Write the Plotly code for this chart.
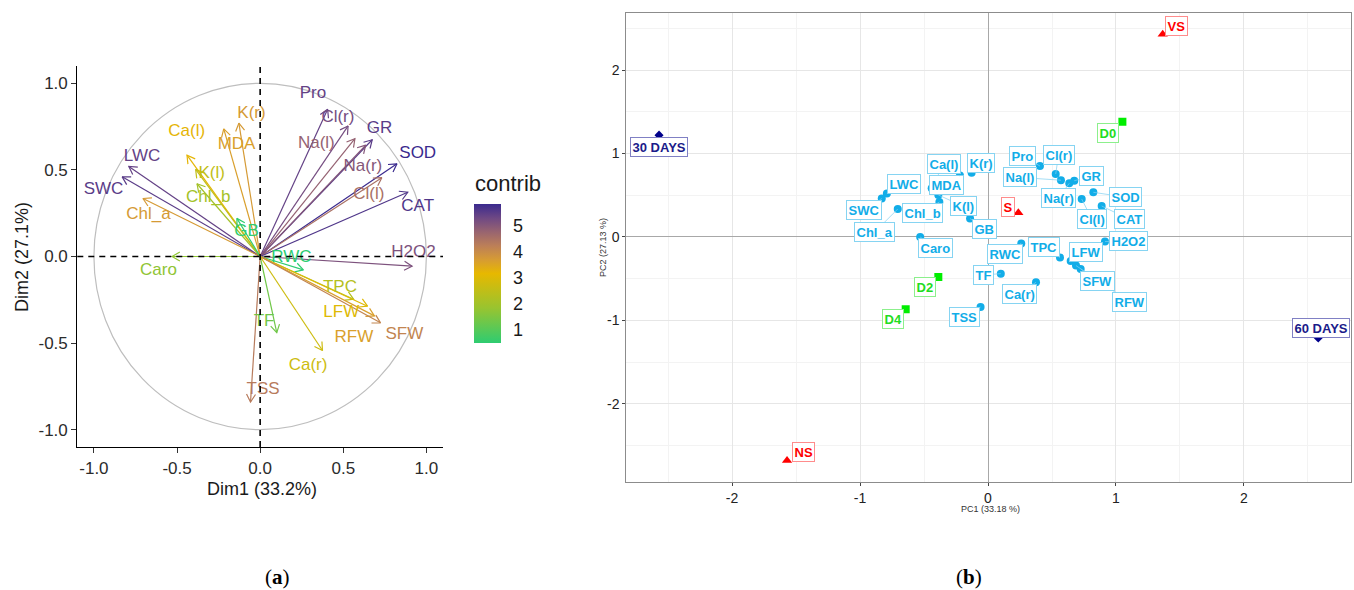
import math
import plotly.graph_objects as go

W, H = 1354, 590

# ---------------- data ----------------
variables = ["Pro", "Cl(r)", "Na(l)", "GR", "Na(r)", "SOD", "Cl(l)", "CAT", "H2O2",
             "LWC", "SWC", "Chl_a", "Ca(l)", "K(l)", "Chl_b", "MDA", "K(r)", "GB",
             "Caro", "RWC", "TPC", "LFW", "RFW", "SFW", "TF", "Ca(r)", "TSS"]
dim1 = [0.406, 0.529, 0.570, 0.674, 0.635, 0.823, 0.732, 0.888, 0.914,
        -0.790, -0.830, -0.705, -0.440, -0.388, -0.380, -0.219, -0.128, -0.140,
        -0.530, 0.260, 0.5625, 0.646, 0.6875, 0.724, 0.100, 0.375, -0.058]
dim2 = [0.850, 0.754, 0.680, 0.674, 0.643, 0.535, 0.455, 0.371, -0.056,
        0.520, 0.460, 0.335, 0.585, 0.503, 0.420, 0.737, 0.770, 0.220,
        0.000, -0.077, -0.247, -0.287, -0.343, -0.383, -0.440, -0.543, -0.840]
contrib = [5.4, 5.2, 4.8, 5.5, 5.0, 5.83, 4.5, 5.6, 5.1,
           5.4, 5.5, 3.7, 3.2, 2.5, 2.0, 3.6, 3.7, 0.5,
           1.7, 0.46, 2.3, 3.0, 3.6, 4.1, 1.3, 2.7, 4.3]

groups = ["30 DAYS", "60 DAYS", "VS", "S", "NS", "D0", "D2", "D4"]
group_kind = ["days", "days", "salt", "salt", "salt", "dose", "dose", "dose"]
pc1 = [-2.57, 2.58, 1.365, 0.237, -1.57, 1.05, -0.388, -0.643]
pc2 = [1.22, -1.21, 2.43, 0.29, -2.68, 1.38, -0.48, -0.866]

a_ticks = [-1.0, -0.5, 0.0, 0.5, 1.0]
a_tick_labels = ["-1.0", "-0.5", "0.0", "0.5", "1.0"]
cbar_ticks = [1, 2, 3, 4, 5]
b_ticks = [-2, -1, 0, 1, 2]
b_tick_labels = ["-2", "-1", "0", "1", "2"]

# ---------------- label placement (positions, not data) ----------------
lab_a = {
    "Pro": (0.318, 0.94), "Cl(r)": (0.468, 0.80), "Na(l)": (0.338, 0.651), "GR": (0.718, 0.738),
    "Na(r)": (0.618, 0.517), "SOD": (0.948, 0.594), "Cl(l)": (0.654, 0.357), "CAT": (0.948, 0.289),
    "H2O2": (0.922, 0.02), "LWC": (-0.711, 0.575), "SWC": (-0.942, 0.386), "Chl_a": (-0.672, 0.241),
    "Ca(l)": (-0.442, 0.723), "K(l)": (-0.292, 0.478), "Chl_b": (-0.312, 0.341), "MDA": (-0.142, 0.646),
    "K(r)": (-0.052, 0.823), "GB": (-0.082, 0.145), "Caro": (-0.612, -0.085), "RWC": (0.188, -0.01),
    "TPC": (0.480, -0.183), "LFW": (0.488, -0.327), "RFW": (0.564, -0.472), "SFW": (0.868, -0.450),
    "TF": (0.024, -0.376), "Ca(r)": (0.288, -0.63), "TSS": (0.018, -0.771),
}
lab_b = {
    "Ca(l)": (-0.345, 0.880), "K(r)": (-0.056, 0.892), "LWC": (-0.659, 0.635), "MDA": (-0.323, 0.617),
    "SWC": (-0.969, 0.329), "Chl_b": (-0.512, 0.284), "K(l)": (-0.191, 0.365), "Chl_a": (-0.883, 0.062),
    "GB": (-0.026, 0.096), "Caro": (-0.408, -0.138), "RWC": (0.129, -0.210), "TF": (-0.034, -0.455),
    "TSS": (-0.182, -0.964), "Pro": (0.267, 0.972), "Cl(r)": (0.551, 0.982), "Na(l)": (0.25, 0.713),
    "GR": (0.810, 0.728), "Na(r)": (0.552, 0.467), "SOD": (1.073, 0.477), "Cl(l)": (0.8125, 0.210),
    "CAT": (1.105, 0.210), "H2O2": (1.099, -0.046), "TPC": (0.441, -0.122), "LFW": (0.768, -0.180),
    "SFW": (0.859, -0.529), "RFW": (1.109, -0.781), "Ca(r)": (0.246, -0.689),
}
lab_g = {
    "30 DAYS": (-2.57, 1.081), "60 DAYS": (2.598, -1.087), "VS": (1.469, 2.527), "NS": (-1.445, -2.575),
    "S": (0.156, 0.353), "D0": (0.9375, 1.251), "D2": (-0.496, -0.599), "D4": (-0.746, -0.982),
}

# ---------------- geometry ----------------
A_L, A_R, A_T, A_B = 77.3, 443.0, 66.0, 447.0
A_XR, A_YR = [-1.1, 1.1], [-1.1, 1.1]
B_L, B_R, B_T, B_B = 626.4, 1351.0, 13.3, 482.3
B_XR, B_YR = [-2.825, 2.836], [-2.94, 2.68]

FONT = "Liberation Sans, Arial, sans-serif"

# green -> gold -> indigo gradient (extra stops mimic perceptual interpolation)
cs_rgb = [(0.0, (46, 204, 113)), (0.25, (152, 196, 48)), (0.5, (231, 184, 0)),
          (0.6, (214, 155, 52)), (0.7, (188, 127, 88)), (0.8, (152, 100, 112)),
          (0.9, (110, 72, 132)), (1.0, (58, 42, 142))]
cscale = [[t, "rgb(%d,%d,%d)" % c] for t, c in cs_rgb]
cmin, cmax = min(contrib), max(contrib)


def colour(v):
    t = (v - cmin) / (cmax - cmin)
    for (t0, c0), (t1, c1) in zip(cs_rgb[:-1], cs_rgb[1:]):
        if t <= t1:
            f = (t - t0) / (t1 - t0)
            return "rgb(%d,%d,%d)" % tuple(round(a + (b - a) * f) for a, b in zip(c0, c1))
    return "rgb(%d,%d,%d)" % cs_rgb[-1][1]


fig = go.Figure()

# ---------------- panel (a): variable arrows ----------------
kx = (A_R - A_L) / (A_XR[1] - A_XR[0])
ky = (A_B - A_T) / (A_YR[1] - A_YR[0])
barb, phi = 9.0, math.radians(30)
for name, x, y, c in zip(variables, dim1, dim2, contrib):
    ang = math.atan2(y * ky, x * kx)
    b1 = (x - barb * math.cos(ang - phi) / kx, y - barb * math.sin(ang - phi) / ky)
    b2 = (x - barb * math.cos(ang + phi) / kx, y - barb * math.sin(ang + phi) / ky)
    fig.add_trace(go.Scatter(
        x=[0, x, None, b1[0], x, b2[0]], y=[0, y, None, b1[1], y, b2[1]],
        mode="lines", line=dict(color=colour(c), width=1.2),
        xaxis="x", yaxis="y", showlegend=False, hoverinfo="skip"))

fig.add_trace(go.Scatter(
    x=[lab_a[v][0] for v in variables], y=[lab_a[v][1] for v in variables],
    mode="text", text=variables,
    textfont=dict(family=FONT, size=17, color=[colour(c) for c in contrib]),
    xaxis="x", yaxis="y", showlegend=False, hoverinfo="skip"))

# colour bar carrier (invisible markers)
fig.add_trace(go.Scatter(
    x=dim1, y=dim2, mode="markers", xaxis="x", yaxis="y", showlegend=False, hoverinfo="skip",
    marker=dict(size=4, opacity=0, color=contrib, colorscale=cscale, cmin=cmin, cmax=cmax, showscale=True,
                colorbar=dict(x=474 / W, xanchor="left", y=1 - 274 / H, yanchor="middle",
                              len=139, lenmode="pixels", thickness=27, thicknessmode="pixels",
                              outlinewidth=0, tickvals=cbar_ticks, ticks="outside", ticklen=9,
                              tickcolor="rgba(255,255,255,0)", xpad=0, ypad=0,
                              tickfont=dict(family=FONT, size=18, color="#1a1a1a")))))

# ---------------- panel (b): biplot ----------------
var_col = "#12ADE8"
fig.add_trace(go.Scatter(x=dim1, y=dim2, mode="markers", xaxis="x2", yaxis="y2",
                         marker=dict(color=var_col, size=8), showlegend=False, hoverinfo="skip"))

gstyle = {
    "days": dict(symbol="diamond", size=7, color="#00008B", text="#1B1B8A", border="#8080C4"),
    "salt": dict(symbol="triangle-up", size=9, color="#FF0000", text="#FF0000", border="#FF8C8C"),
    "dose": dict(symbol="square", size=8, color="#00EE00", text="#22DD22", border="#8CF08C"),
}
for kind in ["days", "salt", "dose"]:
    idx = [i for i, k in enumerate(group_kind) if k == kind]
    st = gstyle[kind]
    fig.add_trace(go.Scatter(x=[pc1[i] for i in idx], y=[pc2[i] for i in idx], mode="markers",
                             xaxis="x2", yaxis="y2", showlegend=False, hoverinfo="skip",
                             marker=dict(symbol=st["symbol"], size=st["size"], color=st["color"])))

annotations = []
for name, x, y in zip(variables, dim1, dim2):
    lx, ly = lab_b[name]
    annotations.append(dict(
        x=x, y=y, ax=lx, ay=ly, xref="x2", yref="y2", axref="x2", ayref="y2",
        text="<b>%s</b>" % name, showarrow=True, arrowhead=0, arrowwidth=0.7,
        arrowcolor="#7FD0F0", standoff=0, startstandoff=0,
        font=dict(family=FONT, size=13, color=var_col),
        bgcolor="white", bordercolor="#86D4F2", borderwidth=1, borderpad=1.5))
for name, kind in zip(groups, group_kind):
    lx, ly = lab_g[name]
    st = gstyle[kind]
    annotations.append(dict(
        x=lx, y=ly, xref="x2", yref="y2", text="<b>%s</b>" % name, showarrow=False,
        xanchor="center", yanchor="middle",
        font=dict(family=FONT, size=13, color=st["text"]),
        bgcolor="white", bordercolor=st["border"], borderwidth=1, borderpad=1.5))


# axis titles and captions (paper pixels)
def px(x, y):
    return dict(x=x / W, y=1 - y / H, xref="paper", yref="paper", showarrow=False,
                xanchor="center", yanchor="middle")


annotations += [
    dict(**px(262, 489), text="Dim1 (33.2%)", font=dict(family=FONT, size=18, color="#1a1a1a")),
    dict(**px(22, 257), text="Dim2 (27.1%)", textangle=-90, font=dict(family=FONT, size=18, color="#1a1a1a")),
    dict(**px(508, 184), text="contrib", font=dict(family=FONT, size=22, color="#1a1a1a")),
    dict(**px(990, 509), text="PC1 (33.18 %)", font=dict(family=FONT, size=9, color="#333333")),
    dict(**px(603, 248), text="PC2 (27.13 %)", textangle=-90, font=dict(family=FONT, size=9, color="#333333")),
    dict(**px(277, 577), text="(<b>a</b>)", font=dict(family="Liberation Serif, serif", size=21, color="#000")),
    dict(**px(969, 577), text="(<b>b</b>)", font=dict(family="Liberation Serif, serif", size=21, color="#000")),
]

shapes = [
    dict(type="circle", xref="x", yref="y", x0=-1, x1=1, y0=-1, y1=1,
         line=dict(color="#BEBEBE", width=1.2), layer="below"),
    dict(type="line", xref="x", yref="paper", x0=0, x1=0, y0=1 - A_B / H, y1=1 - A_T / H,
         line=dict(color="black", width=1.6, dash="6px,5px")),
    dict(type="line", xref="paper", yref="y", x0=A_L / W, x1=A_R / W, y0=0, y1=0,
         line=dict(color="black", width=1.6, dash="6px,5px")),
]

axis_a = dict(showgrid=False, zeroline=False, showline=True, linecolor="black", linewidth=1.2,
              ticks="outside", ticklen=5, tickwidth=1.1, tickcolor="#333",
              tickfont=dict(family=FONT, size=17, color="#2b2b2b"),
              tickvals=a_ticks, ticktext=a_tick_labels)
axis_b = dict(showgrid=True, gridcolor="#E6E6E6", gridwidth=1, zeroline=True, zerolinecolor="#A8A8A8",
              zerolinewidth=1, showline=True, mirror=True, linecolor="#8C8C8C", linewidth=1.3,
              ticks="outside", ticklen=3, tickcolor="#444", tickvals=b_ticks, ticktext=b_tick_labels,
              tickfont=dict(family=FONT, size=14, color="#222"),
              minor=dict(dtick=0.5, showgrid=True, gridcolor="#F3F3F3", gridwidth=1, ticks=""))

fig.update_layout(
    width=W, height=H, margin=dict(l=0, r=0, t=0, b=0),
    paper_bgcolor="white", plot_bgcolor="white", showlegend=False,
    xaxis=dict(domain=[A_L / W, A_R / W], range=A_XR, anchor="y", **axis_a),
    yaxis=dict(domain=[1 - A_B / H, 1 - A_T / H], range=A_YR, anchor="x", **axis_a),
    xaxis2=dict(domain=[B_L / W, B_R / W], range=B_XR, anchor="y2", **axis_b),
    yaxis2=dict(domain=[1 - B_B / H, 1 - B_T / H], range=B_YR, anchor="x2", **axis_b),
    annotations=annotations, shapes=shapes,
)

fig.write_html("out.html", config={"displayModeBar": False},
               post_script="document.body.style.margin='0';document.body.style.overflow='hidden';")
